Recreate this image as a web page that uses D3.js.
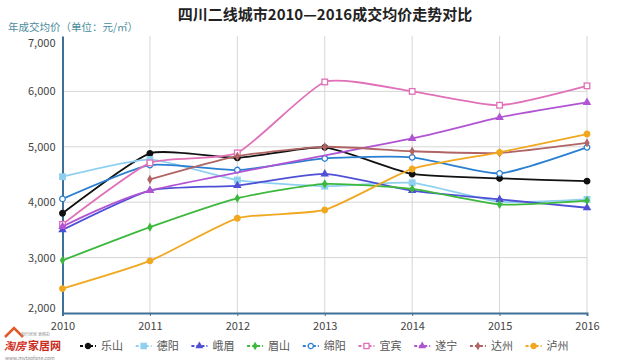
<!DOCTYPE html>
<html><head><meta charset="utf-8">
<script src="https://cdn.jsdelivr.net/npm/d3@7"></script>
<style>body{margin:0;background:#fff}svg{display:block}</style>
</head><body>
<svg id="c" width="617" height="360"></svg>
<script>
const years = [2010, 2011, 2012, 2013, 2014, 2015, 2016];
const yTicks = [2000, 3000, 4000, 5000, 6000, 7000];
const seriesNames = ["乐山", "德阳", "峨眉", "眉山", "绵阳", "宜宾", "遂宁", "达州", "泸州"];
const leshan  = [3800, 4880, 4800, 4990, 4510, 4430, 4380];
const deyang  = [4460, 4770, 4400, 4290, 4350, 4010, 4050];
const emei    = [3500, 4210, 4300, 4510, 4210, 4050, 3900];
const meishan = [2950, 3550, 4070, 4330, 4240, 3960, 4030];
const mianyang= [4060, 4670, 4580, 4790, 4810, 4520, 4990];
const yibin   = [3600, 4710, 4890, 6170, 6000, 5750, 6100];
const suining = [3560, 4210, null, null, 5150, 5530, 5800];
const dazhou  = [null, 4410, 4830, 5000, 4920, 4890, 5070];
const luzhou  = [2440, 2940, 3710, 3860, 4600, 4900, 5230];
const colors  = ["#111111", "#8fd0f0", "#4f4fd6", "#3cb83c", "#2a7fd0", "#e070b8", "#b054d4", "#b06464", "#f0a820"];
const shapes  = ["circle", "square", "triangle", "diamond", "circleOpen", "squareOpen", "triangle", "diamond", "circle"];
const values = [leshan, deyang, emei, meishan, mianyang, yibin, suining, dazhou, luzhou];

const svg = d3.select("#c");
const font = "'Noto Sans CJK SC', 'Noto Sans', sans-serif";
const x = d3.scaleLinear().domain([2010, 2016]).range([62.5, 587]);
const y = d3.scaleLinear().domain([2000, 7000]).range([313, 36]);

// gridlines
svg.append("g").selectAll("line.v").data(years.slice(1)).join("line")
  .attr("x1", d => x(d)).attr("x2", d => x(d)).attr("y1", 36).attr("y2", 313)
  .attr("stroke", "#d6d6d6").attr("stroke-width", 1);
svg.append("g").selectAll("line.h").data(yTicks.filter(t => t > 2000 && t < 7000)).join("line")
  .attr("x1", 62.5).attr("x2", 587).attr("y1", d => y(d)).attr("y2", d => y(d))
  .attr("stroke", "#d6d6d6").attr("stroke-width", 1);

// axes
const yAxis = d3.axisLeft(y).tickValues(yTicks).tickFormat(d3.format(",")).tickSize(0).tickPadding(7);
const gy = svg.append("g").attr("transform", "translate(62.5,0)").call(yAxis);
gy.select(".domain").attr("stroke", "#3f7198").attr("stroke-width", 2);
gy.selectAll("text").attr("font-family", font).attr("font-size", 11).attr("fill", "#444")
  .attr("dy", d => d === 7000 ? "0.95em" : d === 2000 ? "-0.1em" : "0.32em");
const xAxis = d3.axisBottom(x).tickValues(years).tickFormat(d3.format("d")).tickSize(3).tickPadding(6);
const gx = svg.append("g").attr("transform", "translate(0,313)").call(xAxis);
gx.select(".domain").attr("stroke", "#3f7198").attr("stroke-width", 2);
gx.selectAll(".tick line").attr("stroke", "#3f7198");
gx.selectAll("text").attr("font-family", font).attr("font-size", 11).attr("fill", "#444");

// title
svg.append("text").attr("x", 325).attr("y", 20).attr("text-anchor", "middle")
  .attr("font-family", font).attr("font-size", 15).attr("font-weight", "bold").attr("fill", "#222")
  .text("四川二线城市2010—2016成交均价走势对比");
svg.append("text").attr("x", 8).attr("y", 31)
  .attr("font-family", font).attr("font-size", 10.5).attr("fill", "#4a8c9c")
  .text("年成交均价（单位：元/㎡）");

function marker(g, shape, color, r) {
  if (shape.startsWith("circle")) {
    g.append("circle").attr("r", r).attr("fill", shape === "circleOpen" ? "#fff" : color)
      .attr("stroke", color).attr("stroke-width", 1.3);
  } else if (shape.startsWith("square")) {
    g.append("rect").attr("x", -r).attr("y", -r).attr("width", 2 * r).attr("height", 2 * r)
      .attr("fill", shape === "squareOpen" ? "#fff" : color).attr("stroke", color).attr("stroke-width", 1.3);
  } else if (shape === "triangle") {
    g.append("path").attr("d", d3.symbol(d3.symbolTriangle, r * r * 4)()).attr("fill", color);
  } else if (shape === "diamond") {
    g.append("path").attr("d", d3.symbol(d3.symbolDiamond, r * r * 3.2)()).attr("fill", color);
  }
}

const line = d3.line().x(d => x(d.year)).y(d => y(d.v)).curve(d3.curveCardinal.tension(0.45));
values.forEach((vals, i) => {
  const pts = years.map((yr, j) => ({ year: yr, v: vals[j] })).filter(d => d.v != null);
  const g = svg.append("g");
  g.append("path").datum(pts).attr("d", line).attr("fill", "none")
    .attr("stroke", colors[i]).attr("stroke-width", 1.8);
  pts.forEach(d => {
    const m = g.append("g").attr("transform", `translate(${x(d.year)},${y(d.v)})`);
    marker(m, shapes[i], colors[i], 2.8);
  });
});

// legend
const lg = svg.append("g");
seriesNames.forEach((name, i) => {
  const cx = 88 + i * 55.7;
  const g = lg.append("g").attr("transform", `translate(${cx},346)`);
  g.append("line").attr("x1", -8).attr("x2", 8).attr("stroke", colors[i]).attr("stroke-width", 2)
    .attr("stroke-dasharray", "3,2");
  marker(g, shapes[i], colors[i], 2.6);
  g.append("text").attr("x", 13).attr("y", 4).attr("font-family", font).attr("font-size", 11)
    .attr("fill", "#555").text(name);
});

// logo
const logo = svg.append("g");
logo.append("path").attr("d", "M5,337 L14,328 L23,337").attr("fill", "none").attr("stroke", "#e05a28").attr("stroke-width", 2.5);
logo.append("text").attr("x", 4).attr("y", 350).attr("font-family", font).attr("font-size", 11)
  .attr("font-weight", "bold").attr("font-style", "italic").attr("fill", "#d0301e").text("淘房");
logo.append("text").attr("x", 28).attr("y", 350).attr("font-family", font).attr("font-size", 11)
  .attr("font-weight", "bold").attr("fill", "#c82c1c").text("家居网");
logo.append("text").attr("x", 21).attr("y", 336).attr("font-family", font).attr("font-size", 4)
  .attr("fill", "#999").text("相约居家 更精彩");
logo.append("text").attr("x", 5).attr("y", 359.5).attr("font-family", font).attr("font-size", 5)
  .attr("fill", "#888").text("www.mytaofang.com");
</script>
</body></html>
